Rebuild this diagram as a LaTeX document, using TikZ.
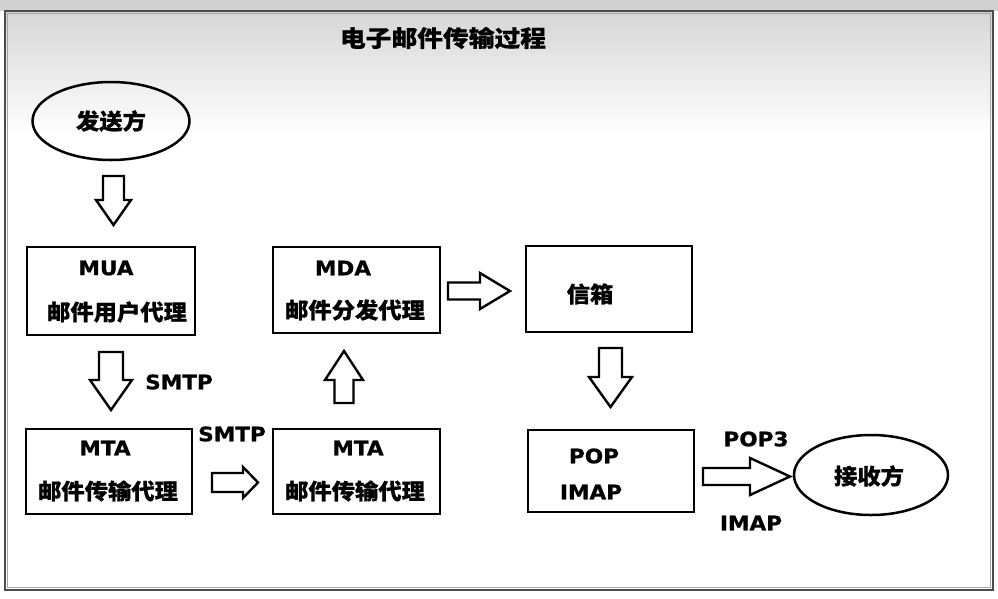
\documentclass[tikz,border=0pt]{standalone}
\usepackage{fontspec}
\usepackage{graphicx}
\usetikzlibrary{shapes.geometric}
\newfontfamily\cjk{Noto Sans CJK SC}[FakeBold=0.6]
\newfontfamily\lat{DejaVu Sans}[FakeBold=0.8]
\newcommand\sxl[1]{\scalebox{1.08}[1]{#1}}
\newcommand\sxc[1]{\scalebox{1.06}[1]{#1}}
\newcommand\BArrow[6]{\begin{scope}[shift={(#1)},rotate=#2]
\draw[barrow] (0,-#5) -- ({#3-#4},-#5) -- ({#3-#4},-#6) -- (#3,0) -- ({#3-#4},#6) -- ({#3-#4},#5) -- (0,#5) -- cycle;
\end{scope}}
\begin{document}
\begin{tikzpicture}[x=1pt,y=-1pt,
 box/.style={draw, line width=2.6pt, inner sep=0pt, rectangle},
 ell/.style={draw, ellipse, line width=2.5pt, inner sep=0pt},
 cn/.style={font=\cjk\bfseries\fontsize{22}{22}\selectfont, inner sep=0pt},
 en/.style={font=\lat\bfseries\fontsize{20}{20}\selectfont, inner sep=0pt},
 barrow/.style={draw, line width=2.4pt, fill=white, line join=miter}]
\useasboundingbox (0,0) rectangle (998,598);
\fill[white] (0,0) rectangle (998,598);
\fill[black!18] (0,0) rectangle (998,11);
\shade[top color=black!16, bottom color=white] (5,11) rectangle (993,135);
\draw[line width=1.4pt, black!70] (5,11) rectangle (993,590);
\draw[line width=0.6pt, black!35] (7.5,13.5) rectangle (990.5,587.5);

% title
\node[font=\cjk\bfseries\fontsize{23}{23}\selectfont, inner sep=0pt] (title) at (443,38) {\scalebox{1.12}[1]{电子邮件传输过程}};

% ellipses
\node[ell, minimum width=157pt, minimum height=78pt] (sender) at (111,121) {};
\node[cn] (senderT) at (111,121) {\sxc{发送方}};
\node[ell, minimum width=154pt, minimum height=80pt] (recv) at (871,475) {};
\node[cn] (recvT) at (869,476) {\sxc{接收方}};

% boxes
\node[box, minimum width=168pt, minimum height=88pt] (mua) at (111,291) {};
\node[box, minimum width=166pt, minimum height=85pt] (mtaL) at (109,471.5) {};
\node[box, minimum width=167pt, minimum height=85pt] (mtaM) at (356.5,471.5) {};
\node[box, minimum width=167pt, minimum height=86pt] (mda) at (356.5,290) {};
\node[box, minimum width=166pt, minimum height=86pt] (mbox) at (609,289) {};
\node[box, minimum width=166pt, minimum height=82pt] (pop) at (611,471) {};

% box texts
\node[en] (muaA) at (106,268) {\sxl{MUA}};
\node[cn] (muaB) at (117,312) {\sxc{邮件用户代理}};
\node[en] (mtaLA) at (105,448) {\sxl{MTA}};
\node[cn] (mtaLB) at (108,491) {\sxc{邮件传输代理}};
\node[en] (mtaMA) at (358,448) {\sxl{MTA}};
\node[cn] (mtaMB) at (355,491) {\sxc{邮件传输代理}};
\node[en] (mdaA) at (343,268) {\sxl{MDA}};
\node[cn] (mdaB) at (355,310) {\sxc{邮件分发代理}};
\node[cn] (mboxT) at (590,294) {\sxc{信箱}};
\node[en] (popA) at (594,456) {\sxl{POP}};
\node[en] (popB) at (591,492) {\sxl{IMAP}};

% arrow labels
\node[en] (smtp1) at (179,382) {\sxl{SMTP}};
\node[en] (smtp2) at (232,434) {\sxl{SMTP}};
\node[en] (pop3) at (756,439) {\sxl{POP3}};
\node[en] (imap) at (751,523) {\sxl{IMAP}};

% block arrows
\coordinate (a1) at (113.5,176);
\coordinate (a2) at (111,352);
\coordinate (a3) at (344,403);
\coordinate (a4) at (212,482.5);
\coordinate (a5) at (448,291);
\coordinate (a6) at (610.5,348);
\coordinate (a7) at (703,476.5);
\BArrow{a1}{-90}{49}{25}{10.5}{17.5}
\BArrow{a2}{-90}{58}{30}{12}{21}
\BArrow{a3}{90}{52}{29}{9.5}{19}
\BArrow{a4}{0}{46}{15}{9.5}{15.5}
\BArrow{a5}{0}{62}{30}{8.5}{18}
\BArrow{a6}{-90}{59}{30}{11.5}{21.5}
\BArrow{a7}{0}{87}{40}{8.5}{18.5}
\end{tikzpicture}
\end{document}
